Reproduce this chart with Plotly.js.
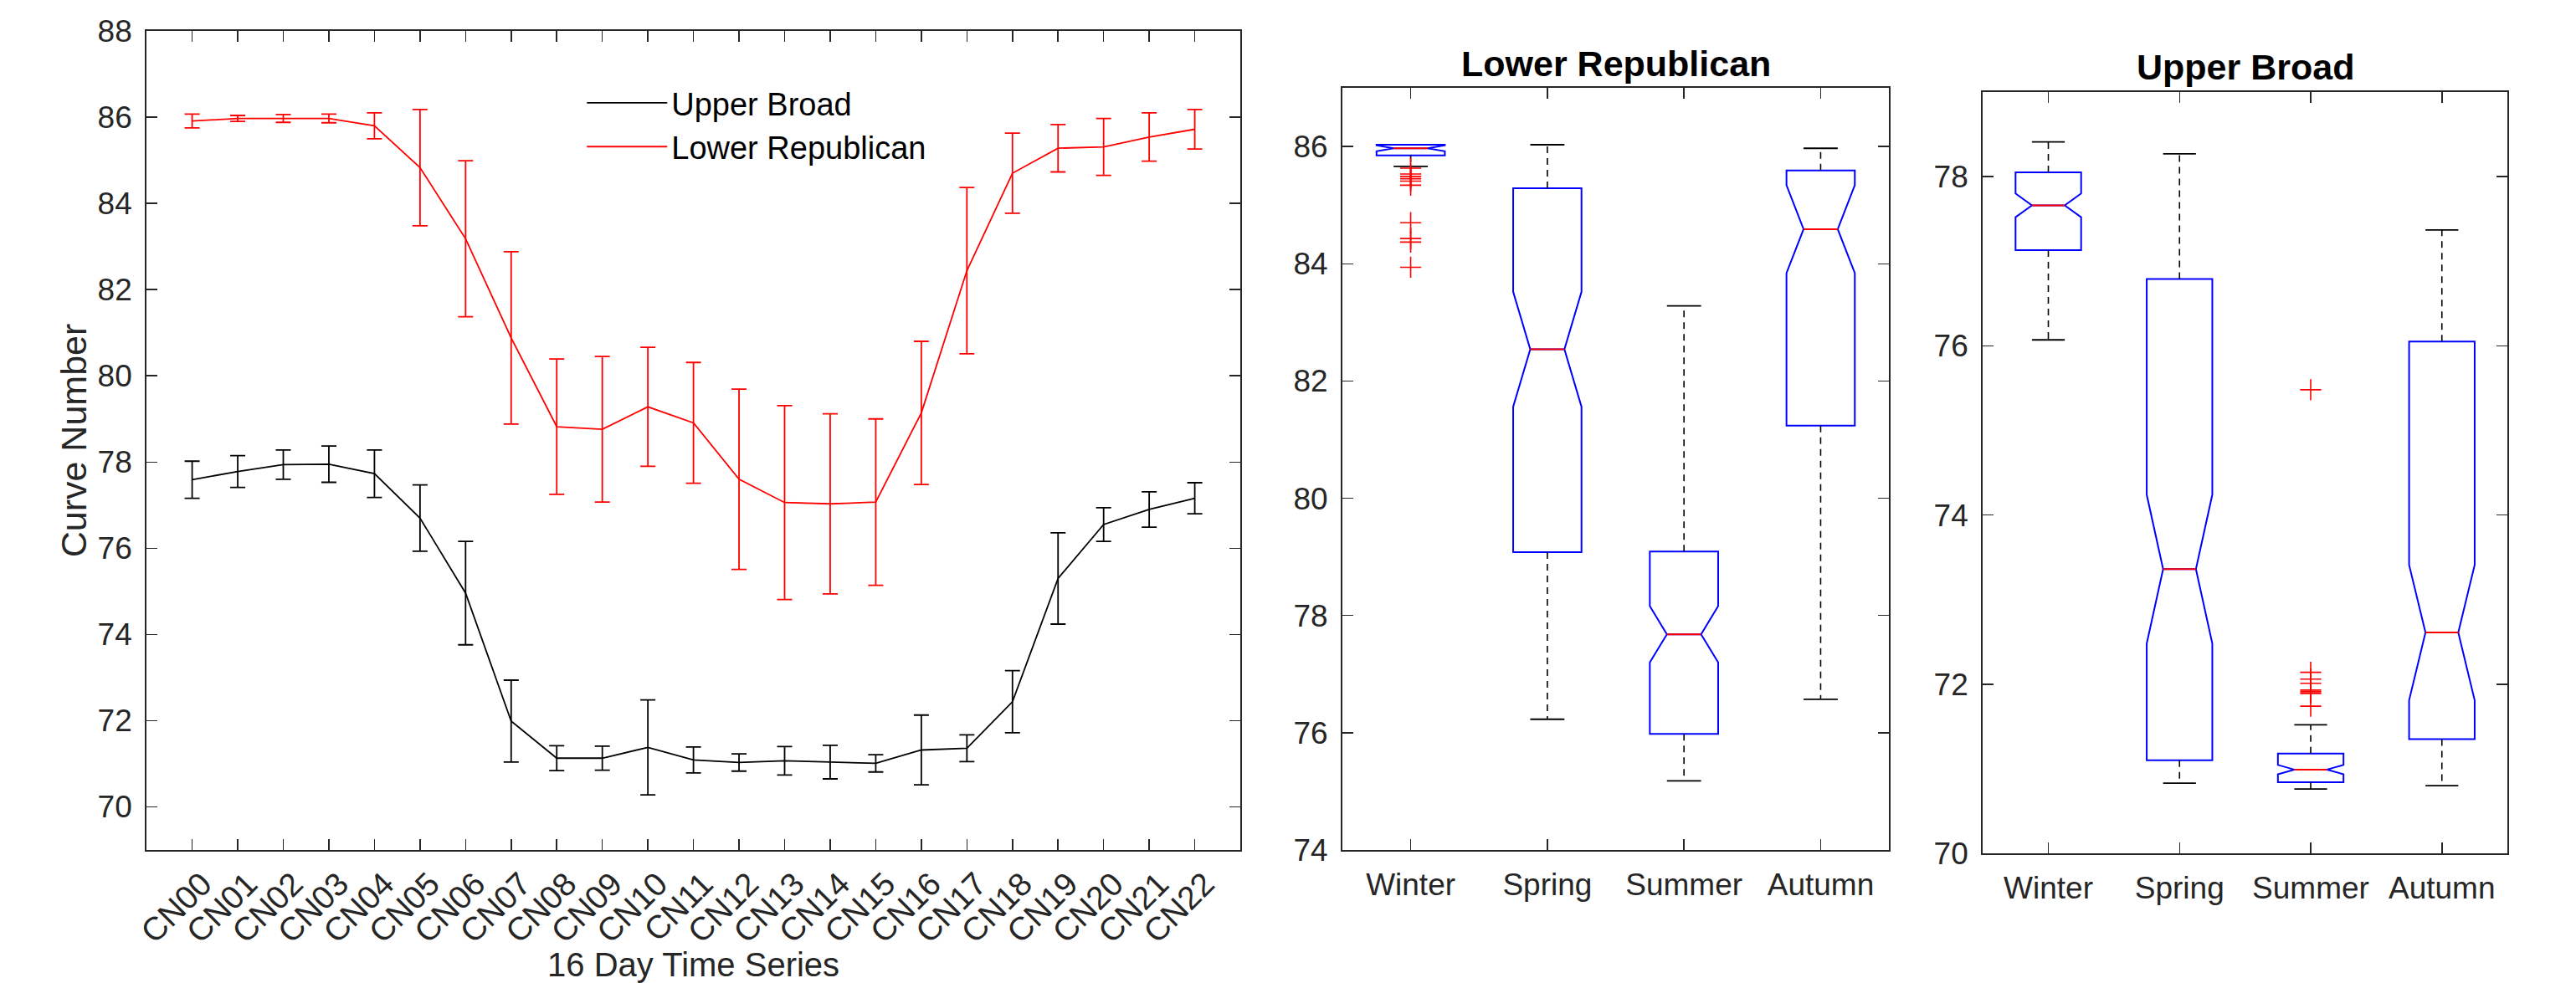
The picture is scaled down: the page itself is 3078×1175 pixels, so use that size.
<!DOCTYPE html>
<html><head><meta charset="utf-8">
<script src="https://cdn.plot.ly/plotly-3.0.1.min.js"></script>
<style>html,body{margin:0;padding:0;background:#fff}#chart{width:3078px;height:1175px}</style>
</head><body><div id="chart"></div>
<script>
// ---- Time series (left panel) ----
const periods = ['CN00','CN01','CN02','CN03','CN04','CN05','CN06','CN07','CN08','CN09','CN10','CN11',
                 'CN12','CN13','CN14','CN15','CN16','CN17','CN18','CN19','CN20','CN21','CN22'];
const upperBroadMean = [77.59,77.78,77.94,77.95,77.73,76.70,74.96,71.99,71.13,71.13,71.38,71.09,
                        71.03,71.07,71.04,71.01,71.32,71.36,72.44,75.30,76.55,76.90,77.16];
const upperBroadErr  = [0.43,0.37,0.34,0.42,0.55,0.77,1.20,0.95,0.29,0.28,1.10,0.30,
                        0.20,0.33,0.39,0.20,0.81,0.31,0.72,1.06,0.39,0.41,0.36];
const lowerRepMean   = [85.91,85.97,85.97,85.97,85.80,84.83,83.18,80.88,78.82,78.76,79.28,78.91,
                        77.60,77.06,77.03,77.07,79.14,82.44,84.70,85.28,85.31,85.54,85.72];
const lowerRepErr    = [0.16,0.07,0.09,0.10,0.30,1.35,1.81,2.00,1.57,1.69,1.38,1.40,
                        2.09,2.25,2.09,1.93,1.66,1.93,0.93,0.55,0.66,0.56,0.46];

// ---- Seasonal box plots ----
const seasons = ['Winter','Spring','Summer','Autumn'];
const seasonPos = [1,2,3,4];

const lrQ1     = [85.85, 79.08, 75.98, 81.24];
const lrMedian = [85.97, 82.54, 77.68, 84.59];
const lrQ3     = [86.03, 85.29, 79.09, 85.59];
const lrNotch  = [0.05, 0.98, 0.48, 0.75];
const lrLower  = [85.66, 76.23, 75.18, 76.57];
const lrUpper  = [86.03, 86.03, 83.28, 85.97];
const lrOutlierSeason = ['Winter','Winter','Winter','Winter','Winter','Winter','Winter','Winter','Winter','Winter'];
const lrOutlierValue  = [85.63, 85.53, 85.49, 85.45, 85.41, 85.34, 84.70, 84.43, 84.37, 83.94];

const ubQ1     = [77.13, 71.10, 70.84, 71.35];
const ubMedian = [77.66, 73.36, 70.99, 72.61];
const ubQ3     = [78.05, 76.79, 71.18, 76.05];
const ubNotch  = [0.14, 0.88, 0.055, 0.80];
const ubLower  = [76.07, 70.83, 70.76, 70.80];
const ubUpper  = [78.41, 78.27, 71.52, 77.37];
const ubOutlierSeason = ['Summer','Summer','Summer','Summer','Summer','Summer','Summer','Summer'];
const ubOutlierValue  = [75.48, 72.14, 72.06, 72.01, 71.93, 71.91, 71.89, 71.74];

// ---- styles ----
const FONT = 'Liberation Sans, Arial, sans-serif';
const AX = '#262626';
const BOXW = 0.5;          // box width (data units)
const NOTCHW = 0.25;       // plotly notch inset -> waist is half the box width
const MEDW = BOXW / 2;     // median line length at the notch waist
const CAPW = 0.25;         // whisker cap width

const traces = [];

traces.push({
  type:'scatter', mode:'lines', name:'Upper Broad', x: periods, y: upperBroadMean,
  line:{color:'#000000', width:1.8},
  error_y:{type:'data', array: upperBroadErr, symmetric:true, color:'#000000', thickness:1.8, width:9},
  xaxis:'x', yaxis:'y'
});
traces.push({
  type:'scatter', mode:'lines', name:'Lower Republican', x: periods, y: lowerRepMean,
  line:{color:'#FF0000', width:1.8},
  error_y:{type:'data', array: lowerRepErr, symmetric:true, color:'#FF0000', thickness:1.8, width:9},
  xaxis:'x', yaxis:'y'
});

function boxPanel(q1, med, q3, notch, lo, hi, outS, outV, xa, ya) {
  traces.push({
    type:'box', x: seasonPos, q1: q1, median: med, q3: q3, lowerfence: q1, upperfence: q3,
    notched:true, notchspan: notch, notchwidth: NOTCHW, width: BOXW, whiskerwidth: 0,
    boxpoints:false, fillcolor:'rgba(0,0,0,0)', line:{color:'#0000FF', width:2},
    showlegend:false, hoverinfo:'skip', xaxis:xa, yaxis:ya
  });
  const wx = [], wy = [], cx = [], cy = [], mx = [], my = [];
  seasonPos.forEach((p, i) => {
    if (hi[i] > q3[i]) { wx.push(p, p, null); wy.push(q3[i], hi[i], null);
      cx.push(p - CAPW/2, p + CAPW/2, null); cy.push(hi[i], hi[i], null); }
    if (lo[i] < q1[i]) { wx.push(p, p, null); wy.push(q1[i], lo[i], null);
      cx.push(p - CAPW/2, p + CAPW/2, null); cy.push(lo[i], lo[i], null); }
    mx.push(p - MEDW/2, p + MEDW/2, null); my.push(med[i], med[i], null);
  });
  traces.push({type:'scatter', mode:'lines', x:wx, y:wy, line:{color:'#000000', width:1.6, dash:'8px,6px'},
    showlegend:false, hoverinfo:'skip', xaxis:xa, yaxis:ya});
  traces.push({type:'scatter', mode:'lines', x:cx, y:cy, line:{color:'#000000', width:1.8},
    showlegend:false, hoverinfo:'skip', xaxis:xa, yaxis:ya});
  traces.push({type:'scatter', mode:'lines', x:mx, y:my, line:{color:'#FF0000', width:2},
    showlegend:false, hoverinfo:'skip', xaxis:xa, yaxis:ya});
  traces.push({type:'scatter', mode:'markers', x: outS.map(s => seasonPos[seasons.indexOf(s)]), y: outV,
    marker:{symbol:'cross-thin-open', size:18, color:'#FF0000', line:{color:'#FF0000', width:1.6}},
    showlegend:false, hoverinfo:'skip', xaxis:xa, yaxis:ya});
}
boxPanel(lrQ1, lrMedian, lrQ3, lrNotch, lrLower, lrUpper, lrOutlierSeason, lrOutlierValue, 'x2', 'y2');
boxPanel(ubQ1, ubMedian, ubQ3, ubNotch, ubLower, ubUpper, ubOutlierSeason, ubOutlierValue, 'x3', 'y3');

const common = {
  showline:true, linecolor:AX, linewidth:2, mirror:'ticks', ticks:'inside', ticklen:13,
  tickwidth:1.5, tickcolor:AX, showgrid:false, zeroline:false,
  tickfont:{family:FONT, size:37, color:AX}, fixedrange:true
};

function even(a, b) { const r = []; for (let v = a; v <= b; v += 2) r.push(v); return r; }

const layout = {
  width:3078, height:1175,
  margin:{l:0, r:0, t:0, b:0},
  paper_bgcolor:'#ffffff', plot_bgcolor:'#ffffff',
  font:{family:FONT, color:AX},
  showlegend:true,
  legend:{x:0.2262, y:0.922, xanchor:'left', yanchor:'top', bgcolor:'rgba(0,0,0,0)',
          font:{family:FONT, size:38, color:'#000000'}, itemwidth:96},
  xaxis: Object.assign({}, common, {domain:[0.0569,0.4815], anchor:'y', type:'category',
          range:[-1,23], tickangle:-45, tickfont:{family:FONT, size:39, color:AX}, ticklabelshift:12,
          title:{text:'16 Day Time Series', font:{family:FONT, size:40, color:AX}, standoff:2}}),
  yaxis: Object.assign({}, common, {domain:[0.1353,0.9685], anchor:'x', range:[69,88],
          tickvals: even(70,88), ticklabelstandoff:8,
          title:{text:'Curve Number', font:{family:FONT, size:43, color:AX}, standoff:0}}),
  xaxis2: Object.assign({}, common, {domain:[0.5211,0.7333], anchor:'y2', range:[0.5,4.5],
          tickvals: seasonPos, ticktext: seasons, ticklabelstandoff:8}),
  yaxis2: Object.assign({}, common, {domain:[0.1353,0.9106], anchor:'x2', range:[74,87],
          tickvals: even(74,86), ticklabelstandoff:8}),
  xaxis3: Object.assign({}, common, {domain:[0.7697,0.9734], anchor:'y3', range:[0.5,4.5],
          tickvals: seasonPos, ticktext: seasons, ticklabelstandoff:8}),
  yaxis3: Object.assign({}, common, {domain:[0.1319,0.9064], anchor:'x3', range:[70,79],
          tickvals: even(70,78), ticklabelstandoff:8}),
  annotations:[
    {text:'<b>Lower Republican</b>', xref:'x2 domain', yref:'paper', x:0.5, y:1-76/1175,
     xanchor:'center', yanchor:'middle', showarrow:false, font:{family:FONT, size:43, color:'#000000'}},
    {text:'<b>Upper Broad</b>', xref:'x3 domain', yref:'paper', x:0.5, y:1-80/1175,
     xanchor:'center', yanchor:'middle', showarrow:false, font:{family:FONT, size:43, color:'#000000'}}
  ]
};

Plotly.newPlot('chart', traces, layout, {staticPlot:true, displayModeBar:false});
</script>
</body></html>
